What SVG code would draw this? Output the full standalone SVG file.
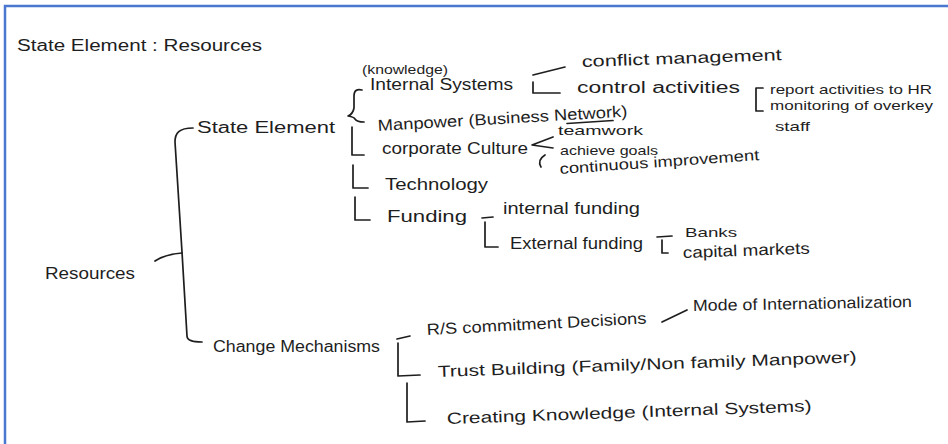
<svg xmlns="http://www.w3.org/2000/svg" width="948" height="444" viewBox="0 0 948 444">
  <style>
    .t { font-family: "Liberation Sans", "DejaVu Sans", sans-serif; fill: #1e1e1e; font-size: 16px; }
    .s { font-size: 13px; }
    .xs { font-size: 12px; }
    .c { fill: none; stroke: #1e1e1e; stroke-width: 1.7; stroke-linecap: round; stroke-linejoin: round; }
    .frame { fill: none; stroke: #4a78d0; stroke-width: 2.5; }
  </style>
  <rect width="948" height="444" fill="#ffffff"/>
  <!-- page frame (left and top edges) -->
  <path class="frame" d="M5,444 L5,6 L948,6"/>

  <g id="title"><text class="t" x="17" y="51" textLength="245" lengthAdjust="spacingAndGlyphs">State Element : Resources</text></g>

  <g id="connectors">
    <!-- Resources bracket -->
    <path class="c" d="M155,261 Q166,254 182,253"/>
    <path class="c" d="M193,128 C179,128 175,133 175,142 L182,252 L187,336 Q187,342 202,342"/>
    <!-- State Element branches -->
    <path class="c" d="M362,90 Q354,88 354,96 L354,108 Q353,114 348,116 Q354,117 355,119 Q357,122 364,122"/>
    <path class="c" d="M352,127 L352,155 L364,155"/>
    <path class="c" d="M353,165 L353,188 L368,188"/>
    <path class="c" d="M355,197 L355,220 L370,220"/>
    <!-- Internal systems -->
    <path class="c" d="M533,75 L565,67"/>
    <path class="c" d="M533,82 L533,93 L560,93"/>
    <path class="c" d="M763,88 L756,88 L756,111 L763,111"/>
    <!-- corporate culture -->
    <path class="c" d="M553,137 L532,145 L553,148"/>
    <path class="c" d="M545,155 Q537,160 541,167"/>
    <!-- Funding -->
    <path class="c" d="M482,218 L493,217"/>
    <path class="c" d="M485,222 L485,247 L498,247"/>
    <path class="c" d="M657,237 L672,236"/>
    <path class="c" d="M662,240 L662,253 L668,253"/>
    <!-- Change mechanisms -->
    <path class="c" d="M397,339 L410,336"/>
    <path class="c" d="M398,343 L398,376 L420,375"/>
    <path class="c" d="M407,383 L407,422 L425,421"/>
    <path class="c" d="M662,322 L687,310"/>
    <!-- underline under Network -->
    <path class="c" d="M567,123.5 L613,120.5"/>
  </g>

  <g id="resources"><text class="t" x="45" y="279" textLength="90" lengthAdjust="spacingAndGlyphs">Resources</text></g>
  <g id="state-element"><text class="t" x="197" y="133" textLength="138" lengthAdjust="spacingAndGlyphs">State Element</text></g>
  <g id="internal-systems">
    <text class="t xs" x="362" y="74" textLength="86" lengthAdjust="spacingAndGlyphs">(knowledge)</text>
    <text class="t" x="370" y="90" textLength="143" lengthAdjust="spacingAndGlyphs">Internal Systems</text>
  </g>
  <g id="manpower"><text class="t" x="378" y="131" textLength="250" lengthAdjust="spacingAndGlyphs" transform="rotate(-3.3 378 131)">Manpower (Business Network)</text></g>
  <g id="corporate-culture"><text class="t" x="382" y="154" textLength="146" lengthAdjust="spacingAndGlyphs">corporate Culture</text></g>
  <g id="technology"><text class="t" x="385" y="190" textLength="103" lengthAdjust="spacingAndGlyphs">Technology</text></g>
  <g id="funding"><text class="t" x="387" y="222" textLength="80" lengthAdjust="spacingAndGlyphs">Funding</text></g>
  <g id="internal-funding"><text class="t" x="503" y="214" textLength="137" lengthAdjust="spacingAndGlyphs">internal funding</text></g>
  <g id="external-funding"><text class="t" x="510" y="249" textLength="133" lengthAdjust="spacingAndGlyphs">External funding</text></g>
  <g id="banks"><text class="t s" x="685" y="237" textLength="52" lengthAdjust="spacingAndGlyphs">Banks</text></g>
  <g id="capital-markets"><text class="t" x="683" y="258" textLength="127" lengthAdjust="spacingAndGlyphs" transform="rotate(-2 683 258)">capital markets</text></g>
  <g id="conflict-management"><text class="t" x="582" y="67" textLength="200" lengthAdjust="spacingAndGlyphs" transform="rotate(-2 582 67)">conflict management</text></g>
  <g id="control-activities"><text class="t" x="577" y="93" textLength="163" lengthAdjust="spacingAndGlyphs">control activities</text></g>
  <g id="report-activities"><text class="t s" x="770" y="94" textLength="162" lengthAdjust="spacingAndGlyphs">report activities to HR</text></g>
  <g id="monitoring">
    <text class="t s" x="770" y="110" textLength="163" lengthAdjust="spacingAndGlyphs">monitoring of overkey</text>
    <text class="t s" x="775" y="131" textLength="35" lengthAdjust="spacingAndGlyphs">staff</text>
  </g>
  <g id="teamwork"><text class="t s" x="558" y="135" textLength="85" lengthAdjust="spacingAndGlyphs">teamwork</text></g>
  <g id="achieve-goals"><text class="t s" x="560" y="155" textLength="98" lengthAdjust="spacingAndGlyphs">achieve goals</text></g>
  <g id="continuous-improvement"><text class="t" x="560" y="174" textLength="200" lengthAdjust="spacingAndGlyphs" transform="rotate(-4 560 174)" style="font-size:15px">continuous improvement</text></g>
  <g id="change-mechanisms"><text class="t" x="213" y="352" textLength="167" lengthAdjust="spacingAndGlyphs">Change Mechanisms</text></g>
  <g id="commitment-decisions"><text class="t" x="427" y="335" textLength="220" lengthAdjust="spacingAndGlyphs" transform="rotate(-3 427 335)">R/S commitment Decisions</text></g>
  <g id="internationalization"><text class="t" x="693" y="311" textLength="219" lengthAdjust="spacingAndGlyphs" transform="rotate(-1 693 311)">Mode of Internationalization</text></g>
  <g id="trust-building"><text class="t" x="438" y="377" textLength="419" lengthAdjust="spacingAndGlyphs" transform="rotate(-2 438 377)">Trust Building (Family/Non family Manpower)</text></g>
  <g id="creating-knowledge"><text class="t" x="447" y="424" textLength="365" lengthAdjust="spacingAndGlyphs" transform="rotate(-2 447 424)">Creating Knowledge (Internal Systems)</text></g>
</svg>
